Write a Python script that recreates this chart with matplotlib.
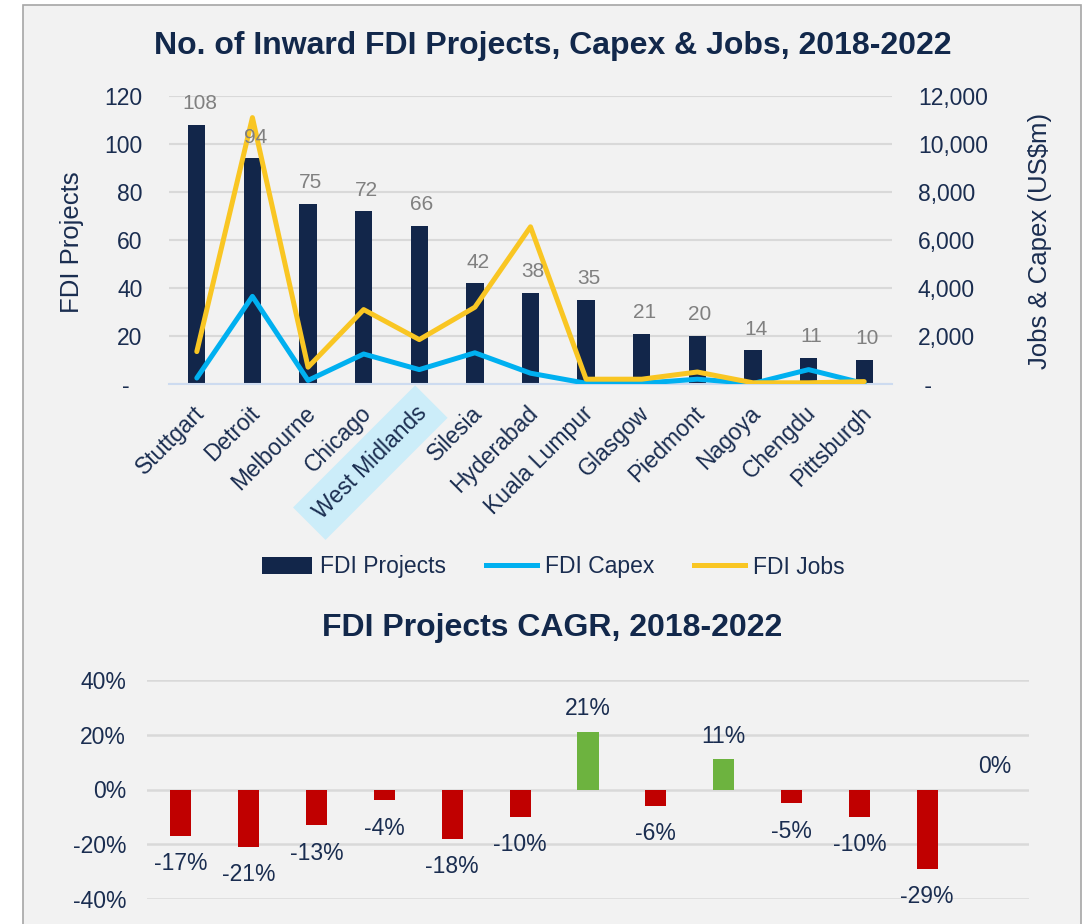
import matplotlib
matplotlib.use('Agg')
import matplotlib.pyplot as plt
import numpy as np
import matplotlib.transforms as mtransforms
from matplotlib.patches import Rectangle, Patch
from matplotlib.lines import Line2D

plt.rcParams['font.family'] = ['Liberation Sans', 'DejaVu Sans']

# ---------------- data ----------------
cities = ['Stuttgart', 'Detroit', 'Melbourne', 'Chicago', 'West Midlands', 'Silesia',
          'Hyderabad', 'Kuala Lumpur', 'Glasgow', 'Piedmont', 'Nagoya', 'Chengdu', 'Pittsburgh']
fdi_projects = [108, 94, 75, 72, 66, 42, 38, 35, 21, 20, 14, 11, 10]
fdi_capex = [250, 3650, 150, 1250, 600, 1300, 450, 30, 30, 200, 20, 600, 20]
fdi_jobs = [1350, 11100, 700, 3100, 1850, 3200, 6550, 200, 200, 500, 50, 50, 100]
cagr = [-17, -21, -13, -4, -18, -10, 21, -6, 11, -5, -10, -29, 0]

left_ticks = [0, 20, 40, 60, 80, 100, 120]
right_ticks = [0, 2000, 4000, 6000, 8000, 10000, 12000]
cagr_ticks = [-40, -20, 0, 20, 40]

title_top = 'No. of Inward FDI Projects, Capex & Jobs, 2018-2022'
title_bottom = 'FDI Projects CAGR, 2018-2022'

# ---------------- style ----------------
NAVY = '#12264a'
TXT = '#1a2d50'
TITLE = '#12284b'
BLUE = '#00b0f0'
YELLOW = '#f9c623'
GRID = '#d9d9d9'
RED = '#c00000'
GREEN = '#6db33f'
LBLGRAY = '#808080'

W, H = 1089, 924
fig = plt.figure(figsize=(W / 100, H / 100), dpi=100)
fig.patch.set_facecolor('white')
fig.patches.append(Rectangle((23 / W, -0.02), (1081 - 23) / W, 1 - 5 / H + 0.02,
                             transform=fig.transFigure, facecolor='#f2f2f2',
                             edgecolor='#a6a6a6', linewidth=1.2, zorder=-10))

x = np.arange(len(cities))

# ---------------- top chart ----------------
ax = fig.add_axes([169 / W, 1 - 384 / H, (892 - 169) / W, (384 - 96) / H])
ax.set_zorder(2)
ax.set_facecolor('none')
ax.bar(x, fdi_projects, width=0.31, color=NAVY, zorder=2)
ax.set_xlim(-0.5, len(cities) - 0.5)
ax.set_ylim(0, 120)
ax.set_yticks(left_ticks)
ax.set_yticklabels(['-  ' if v == 0 else str(v) for v in left_ticks])
ax.yaxis.grid(True, color=GRID, linewidth=1.5)
ax.set_axisbelow(True)
for s in ['top', 'left', 'right']:
    ax.spines[s].set_visible(False)
ax.spines['bottom'].set_color('#cddbf0')
ax.spines['bottom'].set_linewidth(1.5)
ax.tick_params(axis='y', length=0, pad=19, labelsize=16.5, labelcolor=TXT)
ax.tick_params(axis='x', length=0, pad=18.5)
ax.set_xticks(x)
ax.set_xticklabels(cities, rotation=45, ha='right', va='center',
                   rotation_mode='anchor', fontsize=16.5, color=TXT)
off = mtransforms.ScaledTranslation(4 / 100, 0, fig.dpi_scale_trans)
for lbl in ax.get_xticklabels():
    lbl.set_transform(lbl.get_transform() + off)
ax.get_xticklabels()[4].set_bbox(dict(boxstyle='square,pad=0.5', fc='#ccedf9', ec='none'))

ax2 = ax.twinx()
ax2.set_zorder(3)
ax2.set_facecolor('none')
ax2.plot(x, fdi_capex, color=BLUE, lw=3.6, solid_capstyle='round', solid_joinstyle='round', zorder=3)
ax2.plot(x, fdi_jobs, color=YELLOW, lw=3.6, solid_capstyle='round', solid_joinstyle='round', zorder=3)
ax2.set_ylim(0, 12000)
ax2.set_yticks(right_ticks)
ax2.set_yticklabels([' -' if v == 0 else f'{v:,}' for v in right_ticks])
ax2.tick_params(axis='y', length=0, pad=18.7, labelsize=16.5, labelcolor=TXT)
for s in ax2.spines.values():
    s.set_visible(False)

for i, v in enumerate(fdi_projects):
    ax2.annotate(str(v), xy=(i, v), xycoords=ax.transData, xytext=(2, 11.2),
                 textcoords='offset points', ha='center', va='baseline',
                 fontsize=15, color=LBLGRAY, zorder=6)

fig.text(553 / W, 1 - 46 / H, title_top, ha='center', va='center',
         fontsize=23, fontweight='bold', color=TITLE)
fig.text(72 / W, 1 - 242 / H, 'FDI Projects', rotation=90, ha='center', va='center',
         fontsize=18.5, color=TXT)
fig.text(1040 / W, 1 - 241 / H, 'Jobs & Capex (US$m)', rotation=90, ha='center',
         va='center', fontsize=18.5, color=TXT)

handles = [Patch(facecolor=NAVY, edgecolor='none'),
           Line2D([], [], color=BLUE, lw=3.6),
           Line2D([], [], color=YELLOW, lw=3.6)]
fig.legend(handles, ['FDI Projects', 'FDI Capex', 'FDI Jobs'], loc='center',
           bbox_to_anchor=(553 / W, 1 - 567 / H), ncol=3, frameon=False,
           fontsize=16.5, handlelength=2.2, handleheight=0.7, handletextpad=0.35,
           columnspacing=1.75, labelcolor=TXT)

# ---------------- bottom chart ----------------
fig.text(552 / W, 1 - 628 / H, title_bottom, ha='center', va='center',
         fontsize=23, fontweight='bold', color=TITLE)

axb = fig.add_axes([147 / W, 1 - 899 / H, (1029 - 147) / W, (899 - 680) / H])
axb.set_zorder(2)
axb.set_facecolor('none')
axb.bar(x, cagr, width=0.31, color=[RED if v < 0 else GREEN for v in cagr], zorder=2)
axb.set_xlim(-0.5, len(cities) - 0.5)
axb.set_ylim(-40, 40)
axb.set_yticks(cagr_ticks)
axb.set_yticklabels([f'{v}%' for v in cagr_ticks])
axb.yaxis.grid(True, color=GRID, linewidth=1.8)
axb.set_axisbelow(True)
for s in axb.spines.values():
    s.set_visible(False)
axb.set_xticks([])
axb.tick_params(axis='y', length=0, pad=15, labelsize=16.5, labelcolor=TXT)

for i, v in enumerate(cagr):
    dy = -24.8 if v < 0 else 11.9
    axb.annotate(f'{v}%', xy=(i, v), xytext=(0, dy), textcoords='offset points',
                 ha='center', va='baseline', fontsize=16.5, color=TXT,
                 annotation_clip=False)

fig.savefig('out.png', dpi=100, facecolor=fig.get_facecolor())
